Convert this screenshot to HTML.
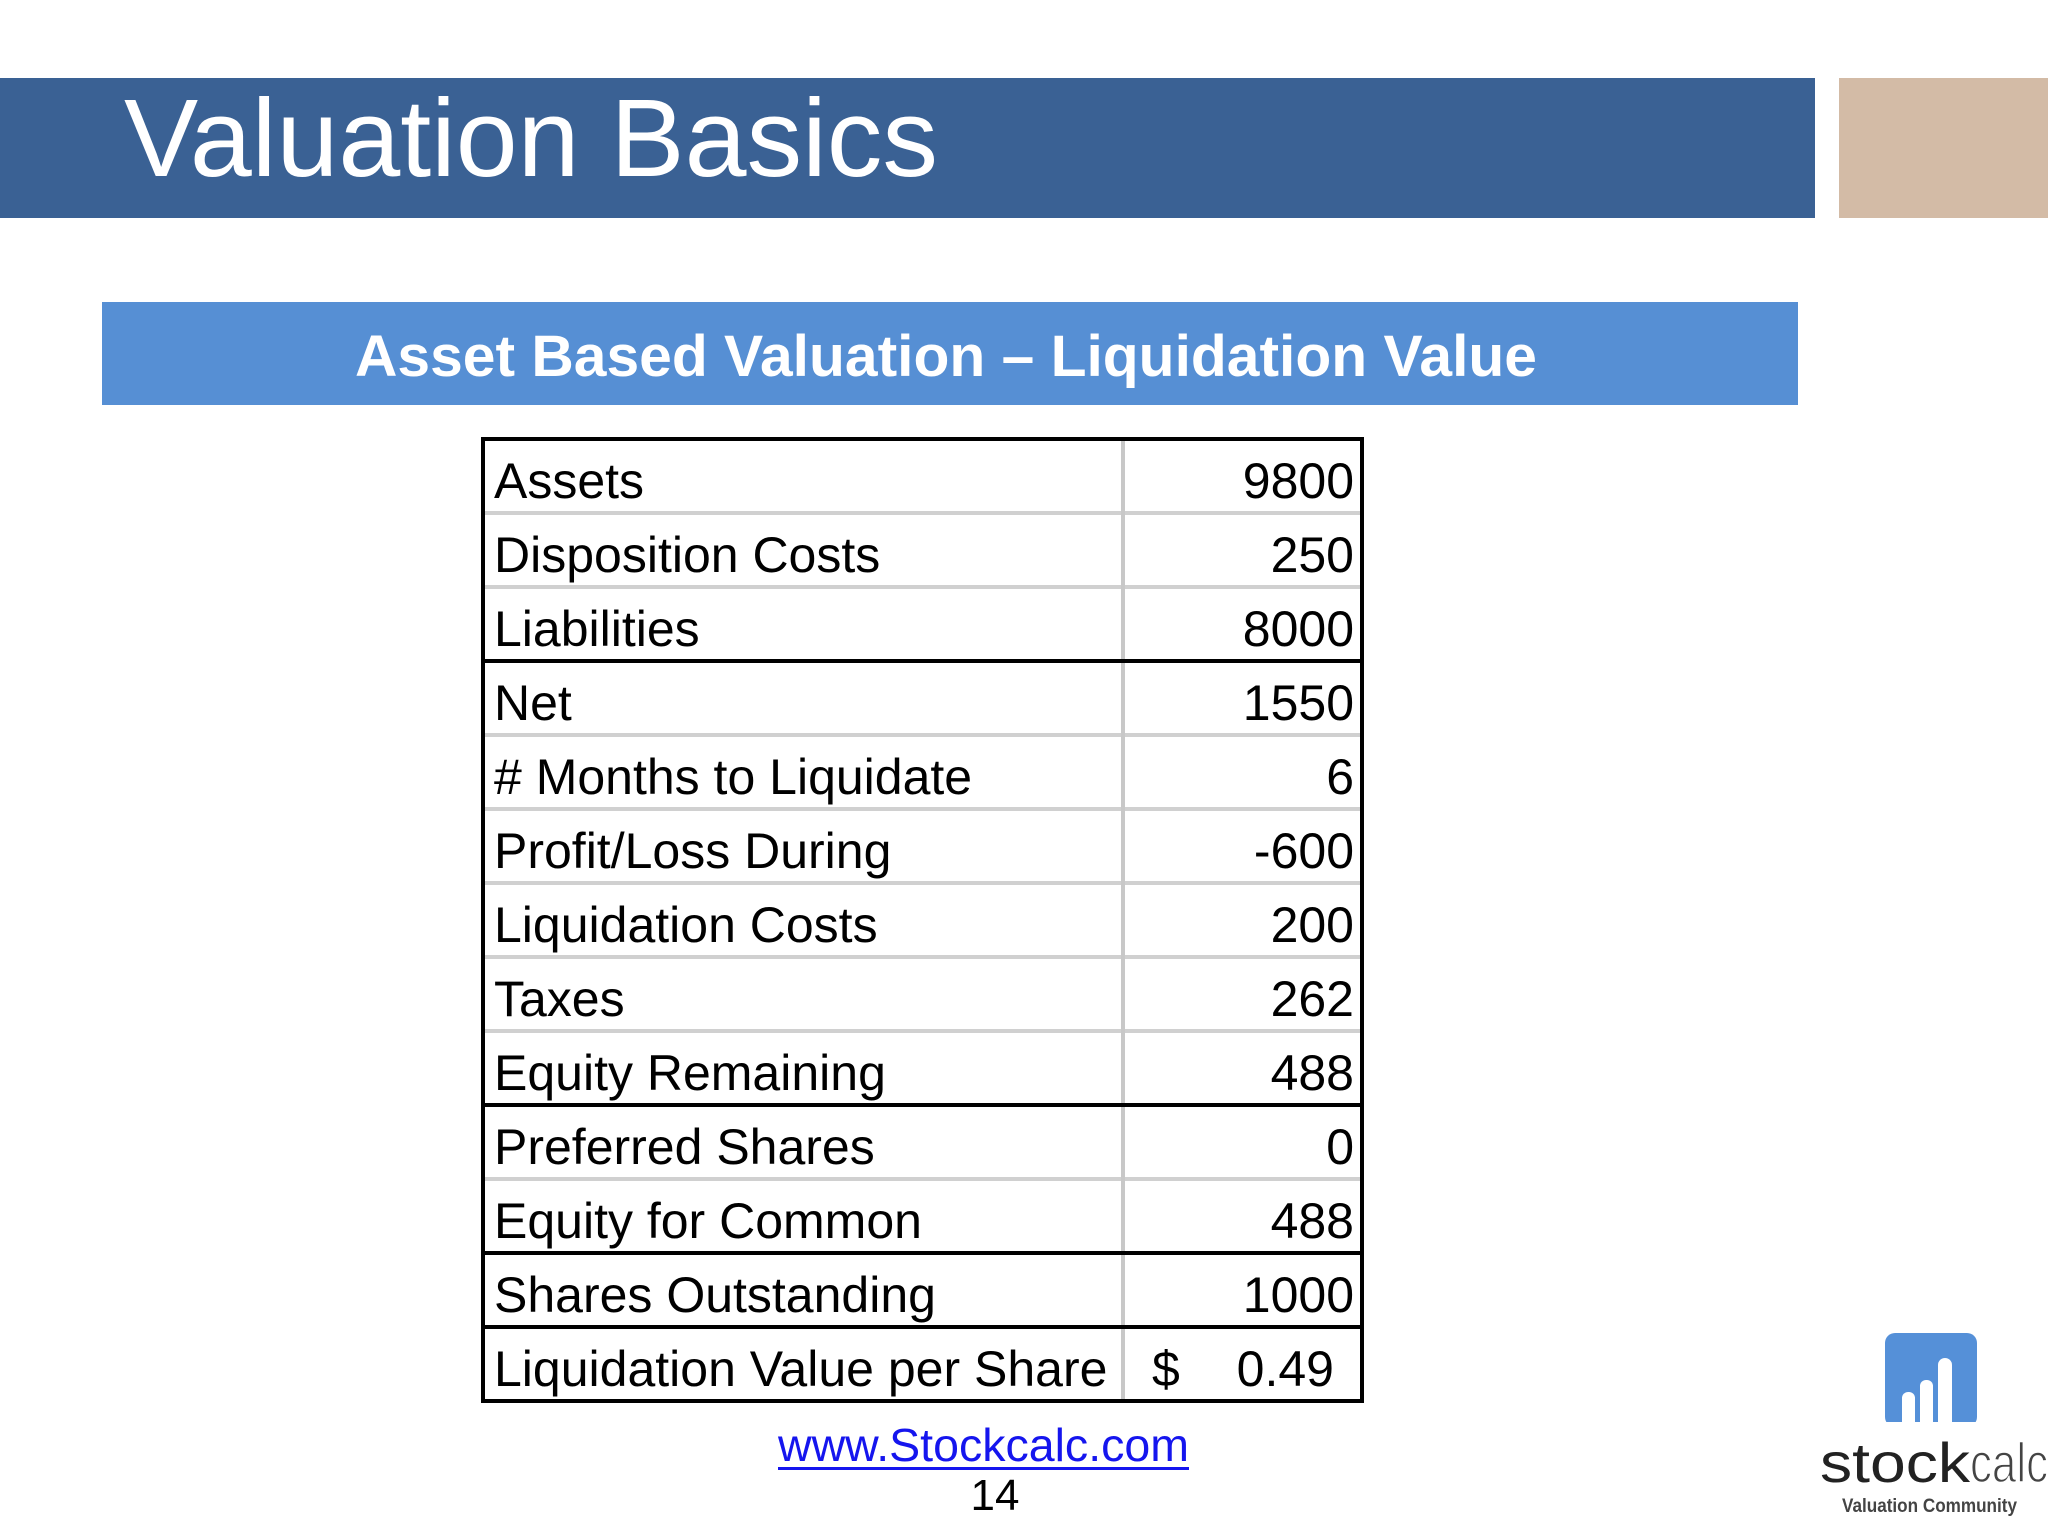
<!DOCTYPE html>
<html><head><meta charset="utf-8"><style>
html,body{margin:0;padding:0;background:#fff;}
svg{display:block;font-family:"Liberation Sans",sans-serif;}
</style></head><body>
<svg width="2048" height="1536" viewBox="0 0 2048 1536" xmlns="http://www.w3.org/2000/svg">
<rect x="0" y="78" width="1815" height="140" fill="#3a6194"/>
<rect x="1839" y="78" width="209" height="140" fill="#d3bba6"/>
<text x="124" y="176" font-size="110" fill="#fff" textLength="814" lengthAdjust="spacingAndGlyphs">Valuation Basics</text>
<rect x="102" y="302" width="1696" height="103" fill="#568fd4"/>
<text x="355" y="376" font-size="58" font-weight="bold" fill="#fff" textLength="1182" lengthAdjust="spacingAndGlyphs">Asset Based Valuation – Liquidation Value</text>
<g id="tbl"></g>
<text x="778" y="1461" font-size="46" fill="#1515ee" textLength="411" lengthAdjust="spacingAndGlyphs">www.Stockcalc.com</text>
<rect x="778" y="1467" width="411" height="3" fill="#1515ee"/>
<text x="995" y="1510" font-size="44" fill="#000" text-anchor="middle">14</text>
<g>
<rect x="1885" y="1333" width="92" height="94" rx="10" fill="#5590d8"/>
<rect x="1902" y="1392" width="13" height="40" rx="6" fill="#fff"/>
<rect x="1920" y="1380" width="13" height="52" rx="6" fill="#fff"/>
<rect x="1938" y="1358" width="14" height="74" rx="7" fill="#fff"/>
<rect x="1880" y="1422" width="100" height="12" fill="#fff"/>
<text x="1820" y="1482" font-size="56" fill="#222" textLength="150" lengthAdjust="spacingAndGlyphs">stock</text>
<text x="1970" y="1482" font-size="56" fill="#444" font-weight="normal" textLength="78" lengthAdjust="spacingAndGlyphs" style="font-weight:100" stroke="#fff" stroke-width="1.5">calc</text>
<text x="1842" y="1512" font-size="19" font-weight="bold" fill="#444" textLength="175" lengthAdjust="spacingAndGlyphs">Valuation Community</text>
</g>
</svg>
<script>
const labels=["Assets","Disposition Costs","Liabilities","Net","# Months to Liquidate","Profit/Loss During","Liquidation Costs","Taxes","Equity Remaining","Preferred Shares","Equity for Common","Shares Outstanding","Liquidation Value per Share"];
const values=["9800","250","8000","1550","6","-600","200","262","488","0","488","1000","0.49"];
const thickAfter=[2,8,10,11];
const NS="http://www.w3.org/2000/svg";
const g=document.getElementById('tbl');
const X0=483,X1=1362,XD=1123,Y0=439,RH=74;
function mk(t,a){const e=document.createElementNS(NS,t);for(const k in a)e.setAttribute(k,a[k]);g.appendChild(e);return e;}
for(let i=0;i<labels.length;i++){
  const y=Y0+i*RH;
  if(i>0&&!thickAfter.includes(i-1)){const l=mk('rect',{x:X0,y:y-2,width:X1-X0,height:4,fill:'#d0d0d0'});
  
  }
  const t=mk('text',{x:X0+11,y:y+59,'font-size':50,fill:'#000'});t.textContent=labels[i];
  
  
  const last=i===labels.length-1;
  if(last){const d=mk('text',{x:1152,y:y+59,'font-size':50,fill:'#000'});d.textContent='$';
  
  }
  const v=mk('text',{x:last?1334:1354,y:y+59,'font-size':50,fill:'#000','text-anchor':'end'});v.textContent=values[i];
  
  
}
const vd=mk('rect',{x:XD-2,y:Y0,width:4,height:labels.length*RH,fill:'#c8c8c8'});


thickAfter.forEach(i=>{const l=mk('rect',{x:X0,y:Y0+(i+1)*RH-2,width:X1-X0,height:4,fill:'#000'});

});
const b=mk('rect',{x:X0,y:Y0,width:X1-X0,height:labels.length*RH,fill:'none',stroke:'#000','stroke-width':4});


</script>
</body></html>
